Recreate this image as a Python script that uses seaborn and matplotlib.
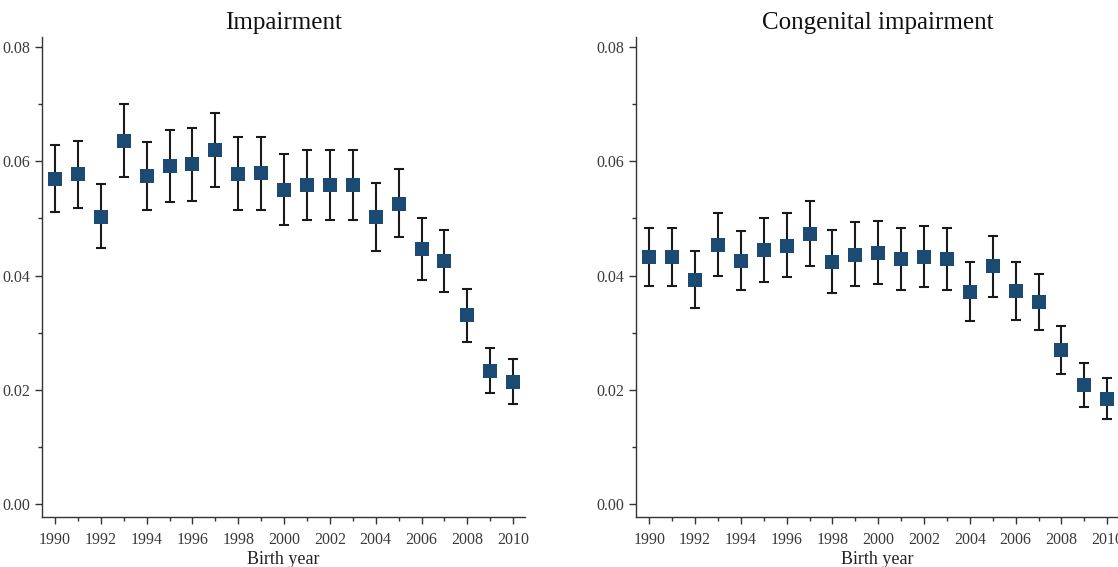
import matplotlib
matplotlib.use("Agg")
import matplotlib.pyplot as plt
import seaborn as sns
import pandas as pd
import numpy as np
from matplotlib.ticker import MultipleLocator

years = list(range(1990, 2011))

imp_est = [0.0569, 0.0577, 0.0503, 0.0636, 0.0574, 0.0591, 0.0595, 0.0619, 0.0577, 0.0579,
           0.0550, 0.0559, 0.0559, 0.0559, 0.0502, 0.0526, 0.0447, 0.0425, 0.0331, 0.0233, 0.0214]
imp_hi = [0.0629, 0.0635, 0.0560, 0.0701, 0.0634, 0.0655, 0.0659, 0.0685, 0.0642, 0.0643,
          0.0612, 0.0619, 0.0619, 0.0619, 0.0562, 0.0586, 0.0501, 0.0480, 0.0377, 0.0274, 0.0253]
imp_lo = [0.0511, 0.0518, 0.0448, 0.0573, 0.0515, 0.0529, 0.0531, 0.0555, 0.0514, 0.0515,
          0.0489, 0.0498, 0.0498, 0.0498, 0.0443, 0.0467, 0.0393, 0.0372, 0.0284, 0.0194, 0.0175]

con_est = [0.0432, 0.0432, 0.0393, 0.0454, 0.0426, 0.0445, 0.0452, 0.0473, 0.0424, 0.0436,
           0.0440, 0.0429, 0.0433, 0.0429, 0.0372, 0.0416, 0.0373, 0.0353, 0.0269, 0.0208, 0.0184]
con_hi = [0.0484, 0.0483, 0.0443, 0.0510, 0.0478, 0.0500, 0.0509, 0.0530, 0.0480, 0.0493,
          0.0496, 0.0483, 0.0487, 0.0483, 0.0423, 0.0470, 0.0423, 0.0403, 0.0312, 0.0247, 0.0221]
con_lo = [0.0381, 0.0382, 0.0343, 0.0400, 0.0374, 0.0389, 0.0397, 0.0416, 0.0369, 0.0382,
          0.0385, 0.0375, 0.0380, 0.0375, 0.0321, 0.0363, 0.0323, 0.0304, 0.0228, 0.0170, 0.0148]

titles = ["Impairment", "Congenital impairment"]
x_label = "Birth year"
y_ticks = [0.00, 0.02, 0.04, 0.06, 0.08]
x_ticks = list(range(1990, 2011, 2))

sns.set_style("ticks")
plt.rcParams["font.family"] = ["Liberation Serif", "DejaVu Serif"]

fig = plt.figure(figsize=(11.18, 5.67), dpi=100)
ax1 = fig.add_axes([0.0376, 0.088, 0.432, 0.847])
ax2 = fig.add_axes([0.569, 0.088, 0.432, 0.847])

marker_color = "#1b4a72"
text_color = "#3a3a3a"

for ax, title, est, lo, hi in [(ax1, titles[0], imp_est, imp_lo, imp_hi),
                               (ax2, titles[1], con_est, con_lo, con_hi)]:
    df = pd.DataFrame({"year": years, "est": est, "lo": lo, "hi": hi})
    yerr = np.vstack([df["est"] - df["lo"], df["hi"] - df["est"]])
    ax.errorbar(df["year"], df["est"], yerr=yerr, fmt="none", ecolor="#1a1a1a",
                elinewidth=1.5, capsize=3.5, capthick=1.5, zorder=2)
    sns.scatterplot(data=df, x="year", y="est", ax=ax, marker="s", s=110,
                    color=marker_color, edgecolor=marker_color, linewidth=0, zorder=3)
    ax.set_xlim(1989.43, 2010.52)
    ax.set_ylim(-0.0023, 0.0818)
    ax.set_xticks(x_ticks)
    ax.set_xticklabels([str(t) for t in x_ticks])
    ax.xaxis.set_minor_locator(MultipleLocator(1))
    ax.set_yticks(y_ticks)
    ax.set_yticklabels([f"{t:.2f}" for t in y_ticks])
    ax.yaxis.set_minor_locator(MultipleLocator(0.01))
    ax.tick_params(axis="x", which="major", pad=6)
    ax.tick_params(axis="both", which="major", length=5, width=1.0, color="#333333",
                   labelsize=11.5, labelcolor=text_color, direction="out")
    ax.tick_params(axis="both", which="minor", length=3, width=1.0, color="#333333",
                   direction="out")
    ax.set_xlabel(x_label, fontsize=13, color="#222222", labelpad=2)
    ax.set_ylabel("")
    ax.set_title(title, fontsize=18, color="#111111", pad=6)
    for side in ["top", "right"]:
        ax.spines[side].set_visible(False)
    for side in ["left", "bottom"]:
        ax.spines[side].set_color("#333333")
        ax.spines[side].set_linewidth(1.0)

fig.savefig("out.png", dpi=100)
